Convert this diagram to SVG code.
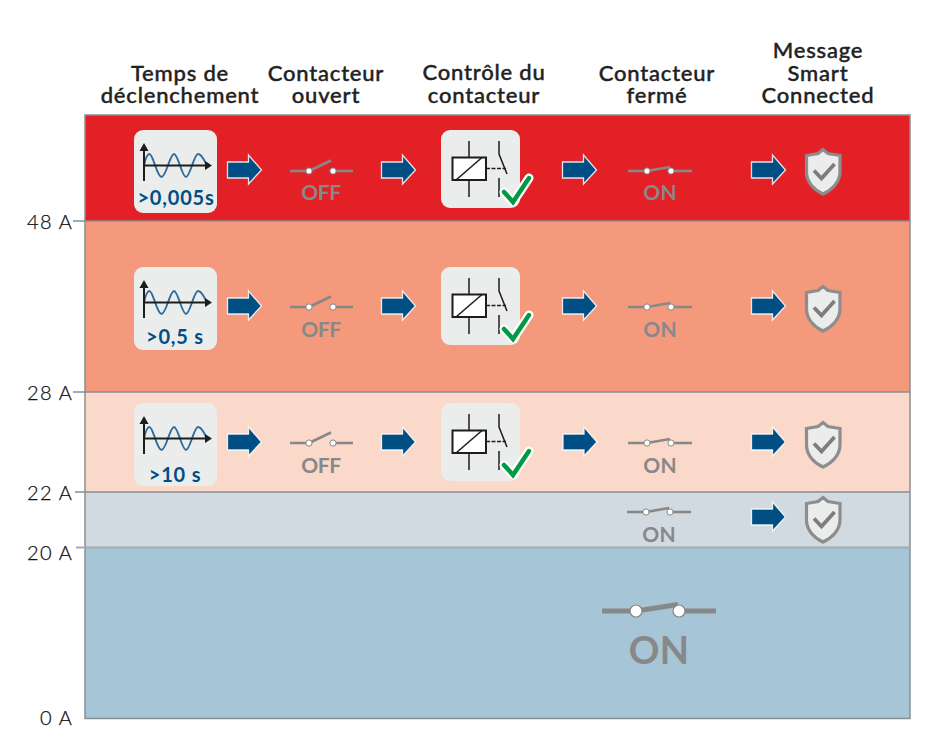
<svg xmlns="http://www.w3.org/2000/svg" width="945" height="739" viewBox="0 0 945 739">
<style>
text{font-family:"Lato","Open Sans","Liberation Sans",sans-serif}
.h{font-size:22px;font-weight:500;fill:#222;stroke:#222;stroke-width:.4;text-anchor:middle;letter-spacing:.8px}
.ax{font-size:20px;font-weight:300;fill:#111;stroke:#111;stroke-width:.25;text-anchor:end;letter-spacing:1.2px}
.t{font-size:20px;font-weight:700;fill:#004f84;text-anchor:middle;letter-spacing:.8px}
.st{font-size:21px;font-weight:700;fill:#888;text-anchor:middle;letter-spacing:.3px}
.nar{letter-spacing:-.4px}
.sep{stroke:#8a8f92;stroke-width:1.5;fill:none}
.sw{stroke:#888;fill:none}
.bk{stroke:#1d1d1b;fill:none}
</style>
<defs>
<g id="arrow"><path d="M227.500 162H248.500V155L261.500 170L248.500 184V178H227.500Z" fill="#004f84" stroke="#fff" stroke-width="1.300" stroke-opacity=".85"/></g>
<g id="wave">
<rect x="134" y="130" width="83" height="83" rx="9" fill="#ebecec"/>
<path d="M144 165.500C146 156 148 154 149.500 154C153 154 157 177 161.500 177C166 177 170 154 174 154C178 154 182 177 186 177C190 177 194 154 198 154C202 154 205 162 207 165.500" fill="none" stroke="#2f6a9c" stroke-width="1.900"/>
<path class="bk" stroke-width="2" d="M144 147V181M144 165.500H206"/>
<path d="M144 143L148.500 151H139.500ZM212 165.500L205 161V170Z" fill="#1d1d1b"/>
</g>
<g id="relay">
<rect x="441" y="130" width="79" height="78" rx="9" fill="#ebecec"/>
<path class="bk" stroke-width="1.500" d="M469 141V157M469 180V197M499 141V154L507 174M499 178V197"/>
<rect x="452.500" y="157.500" width="33.500" height="22.500" fill="#fff" stroke="#1d1d1b" stroke-width="2"/>
<path class="bk" stroke-width="1.600" d="M456 180L482 157.500"/>
<path class="bk" stroke-width="1.300" stroke-dasharray="4 1.500" d="M486 168.500H506"/>
<path d="M504 192L513 202L529 178" fill="none" stroke="#fff" stroke-width="9" stroke-linejoin="round" stroke-linecap="round"/>
<path d="M504 192L513 202L529 178" fill="none" stroke="#009a44" stroke-width="4.500" stroke-linecap="round"/>
</g>
<g id="off">
<path class="sw" stroke-width="2.700" d="M290 171H308M334 171H353M309 171L331 160.500"/>
<circle cx="309" cy="171" r="3.100" fill="#fff" stroke="#888"/>
<circle cx="333" cy="171" r="3.100" fill="#fff" stroke="#888"/>
</g>
<g id="on">
<path class="sw" stroke-width="2.700" d="M628 171H646M672 171H692M647 171L670 167"/>
<circle cx="647" cy="171" r="3.100" fill="#fff" stroke="#888"/>
<circle cx="671" cy="171" r="3.100" fill="#fff" stroke="#888"/>
</g>
<g id="shield">
<path d="M823 149.500L828 153.500L840 155.500V172C840 182 832 190 823 194C814 190 806.500 182 806.500 172V155.500L818 153.500Z" fill="#ebecec" stroke="#8d8d8d" stroke-width="3.200"/>
<path d="M814 170.500L821.500 178.500L834.500 164" fill="none" stroke="#7d7d7d" stroke-width="3.800"/>
</g>
</defs>
<rect width="945" height="739" fill="#fff"/>
<g id="bands">
<rect x="85" y="115" width="825" height="106" fill="#e42027"/>
<rect x="85" y="221" width="825" height="171" fill="#f4997b"/>
<rect x="85" y="392" width="825" height="100" fill="#fad9cb"/>
<rect x="85" y="492" width="825" height="55" fill="#d0dae0"/>
<rect x="85" y="547" width="825" height="171" fill="#a6c5d6"/>
</g>
<g id="axis">
<path class="sep" d="M85 115H910V718.500H85ZM73 221H910M73 392H910M75 492H910"/>
<path d="M76 547.500H910" stroke="#a3abaf" stroke-width="1.800"/>
<text class="ax" x="73" y="229">48 A</text>
<text class="ax" x="73" y="400">28 A</text>
<text class="ax" x="73" y="500">22 A</text>
<text class="ax" x="73" y="560">20 A</text>
<text class="ax" x="73" y="725">0 A</text>
</g>
<g id="headers">
<text class="h"><tspan x="180" y="81">Temps de</tspan><tspan x="180" y="103">déclenchement</tspan></text>
<text class="h"><tspan x="326" y="81">Contacteur</tspan><tspan x="326" y="103">ouvert</tspan></text>
<text class="h"><tspan x="484" y="80">Contrôle du</tspan><tspan x="484" y="103">contacteur</tspan></text>
<text class="h"><tspan x="657" y="81">Contacteur</tspan><tspan x="657" y="103">fermé</tspan></text>
<text class="h"><tspan x="818" y="58">Message</tspan><tspan x="818" y="81">Smart</tspan><tspan x="818" y="103">Connected</tspan></text>
</g>
<g id="connectors">
<use href="#arrow"/><use href="#arrow" x="154"/><use href="#arrow" x="335"/><use href="#arrow" x="524"/>
<use href="#arrow" y="136"/><use href="#arrow" x="154" y="136"/><use href="#arrow" x="335" y="136"/><use href="#arrow" x="524" y="136"/>
<use href="#arrow" y="272"/><use href="#arrow" x="154" y="272"/><use href="#arrow" x="335.500" y="272"/><use href="#arrow" x="524" y="272"/>
<use href="#arrow" x="524" y="347"/>
</g>
<g id="row1">
<g id="n1-time"><use href="#wave"/><text class="t" x="176" y="205">&gt;0,005s</text></g>
<g id="n1-off"><use href="#off"/><text class="st nar" x="321" y="200">OFF</text></g>
<g id="n1-relay"><use href="#relay"/></g>
<g id="n1-on"><use href="#on"/><text class="st" x="660" y="200">ON</text></g>
<g id="n1-shield"><use href="#shield"/></g>
</g>
<g id="row2">
<g id="n2-time"><use href="#wave" y="137"/><text class="t" x="175" y="344">&gt;0,5 s</text></g>
<g id="n2-off"><use href="#off" y="136"/><text class="st nar" x="321" y="337">OFF</text></g>
<g id="n2-relay"><use href="#relay" y="137"/></g>
<g id="n2-on"><use href="#on" y="136"/><text class="st" x="660" y="337">ON</text></g>
<g id="n2-shield"><use href="#shield" y="137"/></g>
</g>
<g id="row3">
<g id="n3-time"><use href="#wave" y="273"/><text class="t" x="175" y="482">&gt;10 s</text></g>
<g id="n3-off"><use href="#off" y="272"/><text class="st nar" x="321" y="473">OFF</text></g>
<g id="n3-relay"><use href="#relay" y="273"/></g>
<g id="n3-on"><use href="#on" y="272"/><text class="st" x="660" y="473">ON</text></g>
<g id="n3-shield"><use href="#shield" y="273"/></g>
</g>
<g id="row4">
<g id="n4-on"><use href="#on" x="-1" y="341"/><text class="st" x="659" y="542">ON</text></g>
<g id="n4-shield"><use href="#shield" y="348"/></g>
</g>
<g id="row5">
<g id="n5-on">
<path class="sw" stroke-width="5" d="M602 611H632M684 611H716M636 611L678 604.500"/>
<circle cx="636" cy="611" r="6" fill="#fff" stroke="#888" stroke-width="1.200"/>
<circle cx="679" cy="611" r="6" fill="#fff" stroke="#888" stroke-width="1.200"/>
<text class="st" x="659" y="664" style="font-size:38px">ON</text>
</g>
</g>
</svg>
